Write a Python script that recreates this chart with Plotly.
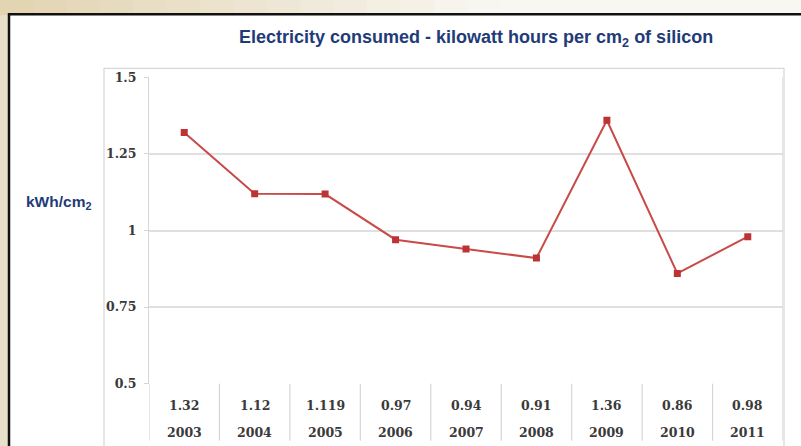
import plotly.graph_objects as go

# Chart data
years = ["2003", "2004", "2005", "2006", "2007", "2008", "2009", "2010", "2011"]
kwh_per_cm2 = [1.32, 1.12, 1.119, 0.97, 0.94, 0.91, 1.36, 0.86, 0.98]
y_ticks = [0.5, 0.75, 1, 1.25, 1.5]
y_tick_labels = ["0.5", "0.75", "1", "1.25", "1.5"]

W, H = 801, 446


def px(x):
    return x / W


def py(y):
    # pixel row -> paper fraction, with a small vertical adjustment for the page
    y = (y - 7.7) / 0.9654
    return 1 - y / H


NAVY = "#1f3b78"
GRID = "#e0e0e0"
TEXT = "#3a3a3a"
SERIF = "DejaVu Serif, serif"
SANS = "Liberation Sans, Arial, sans-serif"
BEIGE = "#e9e0c9"

x_idx = list(range(len(years)))

fig = go.Figure()
fig.add_trace(go.Scatter(
    x=x_idx, y=kwh_per_cm2, mode="lines+markers",
    line=dict(color="#c84b49", width=2),
    marker=dict(symbol="square", size=7, color="#bd3335"),
    hoverinfo="skip", showlegend=False,
))

shapes = []
# beige slide background: top strip as a horizontal gradient
n = 24
c0 = (0xe3, 0xd4, 0xb2)
c1 = (0xf8, 0xf7, 0xf2)
for i in range(n):
    t = i / (n - 1)
    c = tuple(int(round(c0[k] + (c1[k] - c0[k]) * min(1, t * 1.6))) for k in range(3))
    shapes.append(dict(type="rect", xref="paper", yref="paper", layer="below",
                       x0=px(W * i / n), x1=px(W * (i + 1) / n + 1), y0=py(15), y1=py(-10),
                       fillcolor="rgb(%d,%d,%d)" % c, line=dict(width=0)))
# white panel with black border
shapes.append(dict(type="rect", xref="paper", yref="paper", layer="below",
                   x0=px(9), x1=px(W + 10), y0=py(H + 20), y1=py(14),
                   fillcolor="white", line=dict(color="#111111", width=2.5)))
# light chart frame
shapes.append(dict(type="rect", xref="paper", yref="paper", layer="below",
                   x0=px(104), x1=px(784), y0=py(H + 20), y1=py(68),
                   fillcolor="white", line=dict(color="#d6d6d6", width=1.2)))
# data table column separators
for i in range(len(years) + 1):
    shapes.append(dict(type="line", xref="x", yref="paper",
                       x0=i - 0.5, x1=i - 0.5, y0=py(440), y1=py(383),
                       line=dict(color="#d6d6d6", width=1.2)))
# plot right edge
shapes.append(dict(type="line", xref="x", yref="paper",
                   x0=8.5, x1=8.5, y0=py(383), y1=py(77),
                   line=dict(color="#d6d6d6", width=1.2)))

annotations = [
    dict(text="Electricity consumed - kilowatt hours per cm<sub>2</sub> of silicon",
         xref="paper", yref="paper", x=px(476), y=py(38), showarrow=False,
         xanchor="center", yanchor="middle",
         font=dict(family=SANS, size=18, color=NAVY, weight="bold")),
    dict(text="kWh/cm<sub>2</sub>", xref="paper", yref="paper",
         x=px(58), y=py(202), showarrow=False, xanchor="center", yanchor="middle",
         font=dict(family=SANS, size=15.5, color=NAVY, weight="bold")),
]
for i, (yr, v) in enumerate(zip(years, kwh_per_cm2)):
    annotations.append(dict(text=str(v), xref="x", yref="paper", x=i, y=py(405),
                            showarrow=False, xanchor="center", yanchor="middle",
                            font=dict(family=SERIF, size=12.5, color=TEXT, weight="bold")))
    annotations.append(dict(text=yr, xref="x", yref="paper", x=i, y=py(432),
                            showarrow=False, xanchor="center", yanchor="middle",
                            font=dict(family=SERIF, size=12.5, color=TEXT, weight="bold")))

fig.update_layout(
    width=W, height=H,
    margin=dict(l=0, r=0, t=0, b=0),
    paper_bgcolor=BEIGE, plot_bgcolor="rgba(0,0,0,0)",
    shapes=shapes, annotations=annotations,
    xaxis=dict(domain=[px(149), px(783)], range=[-0.5, 8.5],
               showticklabels=False, showgrid=False, zeroline=False,
               showline=False, fixedrange=True),
    yaxis=dict(domain=[py(383), py(77)], range=[0.5, 1.5],
               tickvals=y_ticks, ticktext=y_tick_labels,
               showgrid=True, gridcolor=GRID, gridwidth=1.6,
               zeroline=False, showline=True, linecolor="#d6d6d6", linewidth=1.2,
               ticks="outside", ticklen=4, tickcolor="#d6d6d6",
               ticklabelstandoff=5,
               tickfont=dict(family=SERIF, size=12.5, color=TEXT, weight="bold"),
               fixedrange=True),
    showlegend=False,
)

fig.write_html("out.html")
